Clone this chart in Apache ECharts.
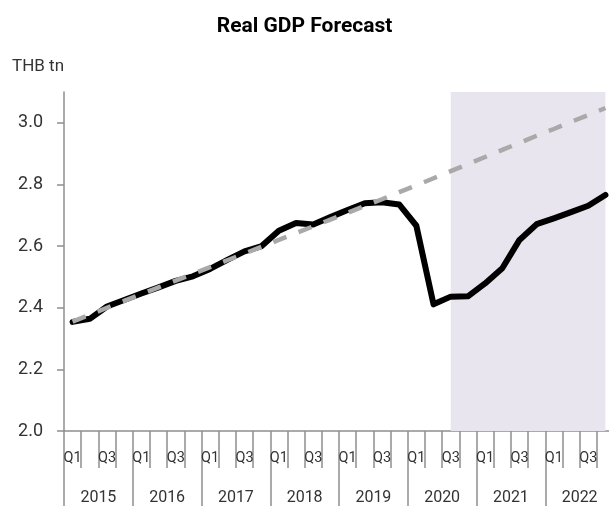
<!DOCTYPE html>
<html>
<head>
<meta charset="utf-8">
<script src="https://cdn.jsdelivr.net/npm/echarts@6/dist/echarts.min.js"></script>
<style>
  html, body { margin: 0; padding: 0; background: #ffffff; }
  #chart { width: 609px; height: 506px; }
</style>
</head>
<body>
<div id="chart"></div>
<script>
// Calendar axis: years and the quarter labels shown under each year
const years = ['2015', '2016', '2017', '2018', '2019', '2020', '2021', '2022'];
const quarters = ['Q1', 'Q2', 'Q3', 'Q4'];
const shownQuarters = ['Q1', 'Q3'];

// Value axis ticks (THB tn)
const yTicks = [2.0, 2.2, 2.4, 2.6, 2.8, 3.0];

// Real GDP: actual up to 2020 Q2, forecast afterwards (THB tn)
const realGdp = [
  2.354, 2.364, 2.404, 2.425, 2.446, 2.466, 2.487, 2.502,
  2.526, 2.555, 2.583, 2.600, 2.650, 2.675, 2.670, 2.694,
  2.717, 2.739, 2.742, 2.735, 2.666, 2.411, 2.436, 2.437,
  2.479, 2.528, 2.620, 2.671, 2.690, 2.710, 2.731, 2.766
];

// Pre-COVID trend path (THB tn)
const preCovidTrend = [
  2.355, 2.377, 2.400, 2.422, 2.444, 2.466, 2.488, 2.510,
  2.532, 2.554, 2.576, 2.598, 2.620, 2.642, 2.664, 2.686,
  2.708, 2.730, 2.752, 2.775, 2.797, 2.820, 2.843, 2.866,
  2.889, 2.912, 2.935, 2.958, 2.980, 3.003, 3.025, 3.048
];

// Forecast window shading
const forecastStart = '2020 Q3';
const forecastEnd = '2022 Q4';

const quarterCats = years.flatMap(y => quarters.map(q => y + ' ' + q));

const FONT = 'Roboto, "Noto Sans", sans-serif';
const AXIS_GREY = '#8f8f8f';
const TEXT = '#333333';

const chart = echarts.init(document.getElementById('chart'), null, { renderer: 'canvas' });

chart.setOption({
  animation: false,
  backgroundColor: '#ffffff',
  textStyle: { fontFamily: FONT },
  title: {
    text: 'Real GDP Forecast',
    left: 'center',
    top: 11,
    textStyle: { fontFamily: FONT, fontSize: 21, fontWeight: 'bold', color: '#000000' }
  },
  graphic: [{
    type: 'text',
    left: 12,
    top: 58,
    style: { text: 'THB tn', fontFamily: FONT, fontSize: 17, fill: TEXT }
  }],
  grid: { left: 64, top: 92, width: 550, height: 339, outerBoundsMode: 'none', containLabel: false },
  xAxis: [{
    type: 'category',
    data: quarterCats,
    boundaryGap: true,
    axisLine: { show: true, lineStyle: { color: AXIS_GREY, width: 1.5 } },
    axisTick: { show: true, interval: 0, length: 37, lineStyle: { color: AXIS_GREY, width: 1.5 } },
    axisLabel: {
      interval: 0,
      margin: 20,
      fontFamily: FONT,
      fontSize: 14.5,
      color: TEXT,
      hideOverlap: false,
      formatter: v => {
        const q = v.split(' ')[1];
        return shownQuarters.includes(q) ? q : '';
      }
    },
    splitLine: { show: false }
  }, {
    type: 'category',
    data: years,
    position: 'bottom',
    boundaryGap: true,
    axisLine: { show: false },
    axisTick: { show: true, interval: 0, length: 80, lineStyle: { color: AXIS_GREY, width: 1.5 } },
    axisLabel: { interval: 0, margin: 59, fontFamily: FONT, fontSize: 16, color: TEXT },
    splitLine: { show: false }
  }],
  yAxis: {
    type: 'value',
    min: 2.0,
    max: 3.1,
    interval: 0.2,
    axisLine: { show: true, lineStyle: { color: AXIS_GREY, width: 1.5 } },
    axisTick: { show: true, length: 7, customValues: yTicks, lineStyle: { color: AXIS_GREY, width: 1.5 } },
    axisLabel: {
      margin: 21,
      fontFamily: FONT,
      fontSize: 18,
      color: TEXT,
      customValues: yTicks,
      formatter: v => v.toFixed(1)
    },
    splitLine: { show: false }
  },
  series: [{
    name: 'Forecast window',
    type: 'line',
    xAxisIndex: 0,
    data: [],
    z: 1,
    silent: true,
    markArea: {
      silent: true,
      itemStyle: { color: '#e9e5ef', opacity: 1 },
      data: [[{ xAxis: forecastStart }, { xAxis: forecastEnd }]]
    }
  }, {
    name: 'Real GDP',
    type: 'line',
    xAxisIndex: 0,
    data: realGdp,
    z: 3,
    symbol: 'none',
    smooth: false,
    lineStyle: { color: '#000000', width: 6, join: 'round', cap: 'round' }
  }, {
    name: 'Pre-COVID trend',
    type: 'line',
    xAxisIndex: 0,
    data: preCovidTrend,
    z: 4,
    symbol: 'none',
    lineStyle: { color: '#a9a9a9', width: 4.5, type: [14, 13], cap: 'butt' }
  }]
});
</script>
</body>
</html>
